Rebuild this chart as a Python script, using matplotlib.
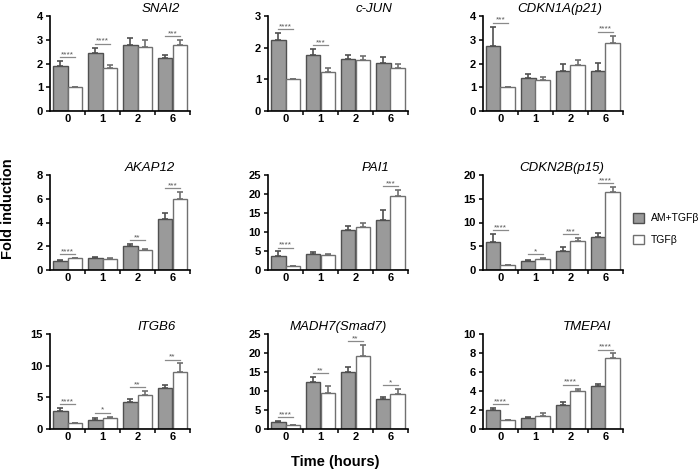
import numpy as np
import matplotlib
matplotlib.use("Agg")
import matplotlib.pyplot as plt
from matplotlib.patches import Patch

plt.rcParams['font.family'] = ['Liberation Sans', 'DejaVu Sans']

# data
genes = ['SNAI2', 'c-JUN', 'CDKN1A(p21)',
         'AKAP12', 'PAI1', 'CDKN2B(p15)',
         'ITGB6', 'MADH7(Smad7)', 'TMEPAI']
times = ['0', '1', '2', '6']

am_mean = [[1.89, 2.44, 2.76, 2.22],
           [2.24, 1.77, 1.64, 1.52],
           [2.74, 1.39, 1.70, 1.68],
           [0.78, 0.97, 2.00, 4.29],
           [3.8, 4.2, 10.5, 13.1],
           [5.94, 1.84, 3.96, 6.86],
           [2.77, 1.49, 4.20, 6.44],
           [1.88, 12.4, 15.0, 7.86],
           [2.05, 1.13, 2.50, 4.49]]
am_err = [[0.21, 0.23, 0.33, 0.15],
          [0.23, 0.19, 0.13, 0.17],
          [0.81, 0.17, 0.28, 0.34],
          [0.08, 0.14, 0.20, 0.53],
          [1.1, 0.45, 1.2, 2.6],
          [1.62, 0.21, 0.92, 0.84],
          [0.58, 0.21, 0.59, 0.53],
          [0.17, 1.3, 1.4, 0.44],
          [0.18, 0.11, 0.30, 0.24]]
tgf_mean = [[1.0, 1.80, 2.69, 2.76],
            [1.0, 1.24, 1.61, 1.36],
            [1.0, 1.32, 1.94, 2.87],
            [1.0, 0.92, 1.70, 5.99],
            [1.0, 3.86, 11.4, 19.5],
            [1.0, 2.26, 6.08, 16.4],
            [1.0, 1.76, 5.43, 8.94],
            [1.0, 9.4, 19.2, 9.29],
            [1.0, 1.38, 3.99, 7.46]]
tgf_err = [[0.0, 0.12, 0.29, 0.23],
           [0.0, 0.12, 0.14, 0.12],
           [0.0, 0.11, 0.21, 0.30],
           [0.0, 0.08, 0.10, 0.56],
           [0.0, 0.24, 1.1, 1.5],
           [0.0, 0.28, 0.70, 1.06],
           [0.0, 0.21, 0.53, 1.43],
           [0.0, 1.9, 2.9, 1.21],
           [0.0, 0.35, 0.25, 0.49]]
sig = [['****', '****', '', '***'],
       ['****', '***', '', ''],
       ['***', '', '', '****'],
       ['****', '', '**', '***'],
       ['****', '', '', '***'],
       ['****', '*', '***', '****'],
       ['****', '*', '**', '**'],
       ['****', '**', '**', '*'],
       ['****', '', '****', '****']]
ymax = [4, 3, 4, 8, 25, 20, 15, 25, 10]
ystep = [1, 1, 1, 2, 5, 5, 5, 5, 2]

# layout (pixels of a 698x470 figure)
W, H = 698, 470
lefts = [50, 268, 483]
tops = [16, 175, 334]
aw, ah = 140, 95
title_x = [0.79, 0.755, 0.55, 0.71, 0.77, 0.56, 0.76, 0.5, 0.74]

grey = '#9a9a9a'
grey_edge = '#505050'
white_edge = '#707070'
bw = 0.41

fig = plt.figure(figsize=(W / 100, H / 100), dpi=100)

for k, g in enumerate(genes):
    r, c = divmod(k, 3)
    ax = fig.add_axes([lefts[c] / W, 1 - (tops[r] + ah) / H, aw / W, ah / H])
    x = np.arange(4)
    am = np.array(am_mean[k])
    ae = np.array(am_err[k])
    tm = np.array(tgf_mean[k])
    te = np.array(tgf_err[k])
    ax.bar(x - bw / 2, am, bw, color=grey, edgecolor=grey_edge, linewidth=1.0,
           yerr=[np.zeros(4), ae], error_kw=dict(ecolor=grey_edge, elinewidth=1.2,
                                                  capsize=2.5, capthick=1.2))
    ax.bar(x + bw / 2, tm, bw, color='white', edgecolor=white_edge, linewidth=1.0,
           yerr=[np.zeros(4), te], error_kw=dict(ecolor=white_edge, elinewidth=1.2,
                                                  capsize=2.5, capthick=1.2))
    for i in range(4):
        if sig[k][i]:
            yl = max(am[i] + ae[i], tm[i] + te[i]) + 0.04 * ymax[k]
            ax.plot([i - bw / 2, i + bw / 2], [yl, yl], color='#8a8a8a', lw=0.9)
            ax.text(i, yl - 0.01 * ymax[k], sig[k][i], ha='center', va='bottom',
                    fontsize=6, color='#555555')
    ax.set_xlim(-0.5, 3.5)
    ax.set_ylim(0, ymax[k])
    ax.set_yticks(np.arange(0, ymax[k] + 0.01, ystep[k]))
    ax.set_xticks(x)
    ax.set_xticklabels(times)
    ax.set_xticks([0.5, 1.5, 2.5, 3.5], minor=True)
    ax.tick_params(axis='x', which='major', length=0, pad=2.5)
    ax.tick_params(axis='x', which='minor', length=3, width=1.1, direction='out')
    ax.tick_params(axis='y', length=3, width=1.1, direction='out', pad=2)
    for lab in ax.get_xticklabels() + ax.get_yticklabels():
        lab.set_fontweight('bold')
        lab.set_fontsize(8)
    for s in ['top', 'right']:
        ax.spines[s].set_visible(False)
    for s in ['left', 'bottom']:
        ax.spines[s].set_linewidth(1.2)
    ax.text(title_x[k], 1.04, g, transform=ax.transAxes, ha='center', va='baseline',
            fontsize=9.5, fontstyle='italic')

fig.text(8 / W, 1 - 209 / H, 'Fold induction', rotation=90, ha='center', va='center',
         fontsize=10.5, fontweight='bold')
fig.text(335 / W, 1 - 462 / H, 'Time (hours)', ha='center', va='center',
         fontsize=10.5, fontweight='bold')

handles = [Patch(facecolor=grey, edgecolor=grey_edge, linewidth=1.0),
           Patch(facecolor='white', edgecolor=white_edge, linewidth=1.0)]
fig.legend(handles, ['AM+TGFβ', 'TGFβ'], loc='center left',
           bbox_to_anchor=(624 / W, 1 - 229 / H), frameon=False, fontsize=7.5,
           handlelength=1.05, handleheight=1.05, handletextpad=0.6, labelspacing=1.1)

fig.savefig('out.png', dpi=100)
